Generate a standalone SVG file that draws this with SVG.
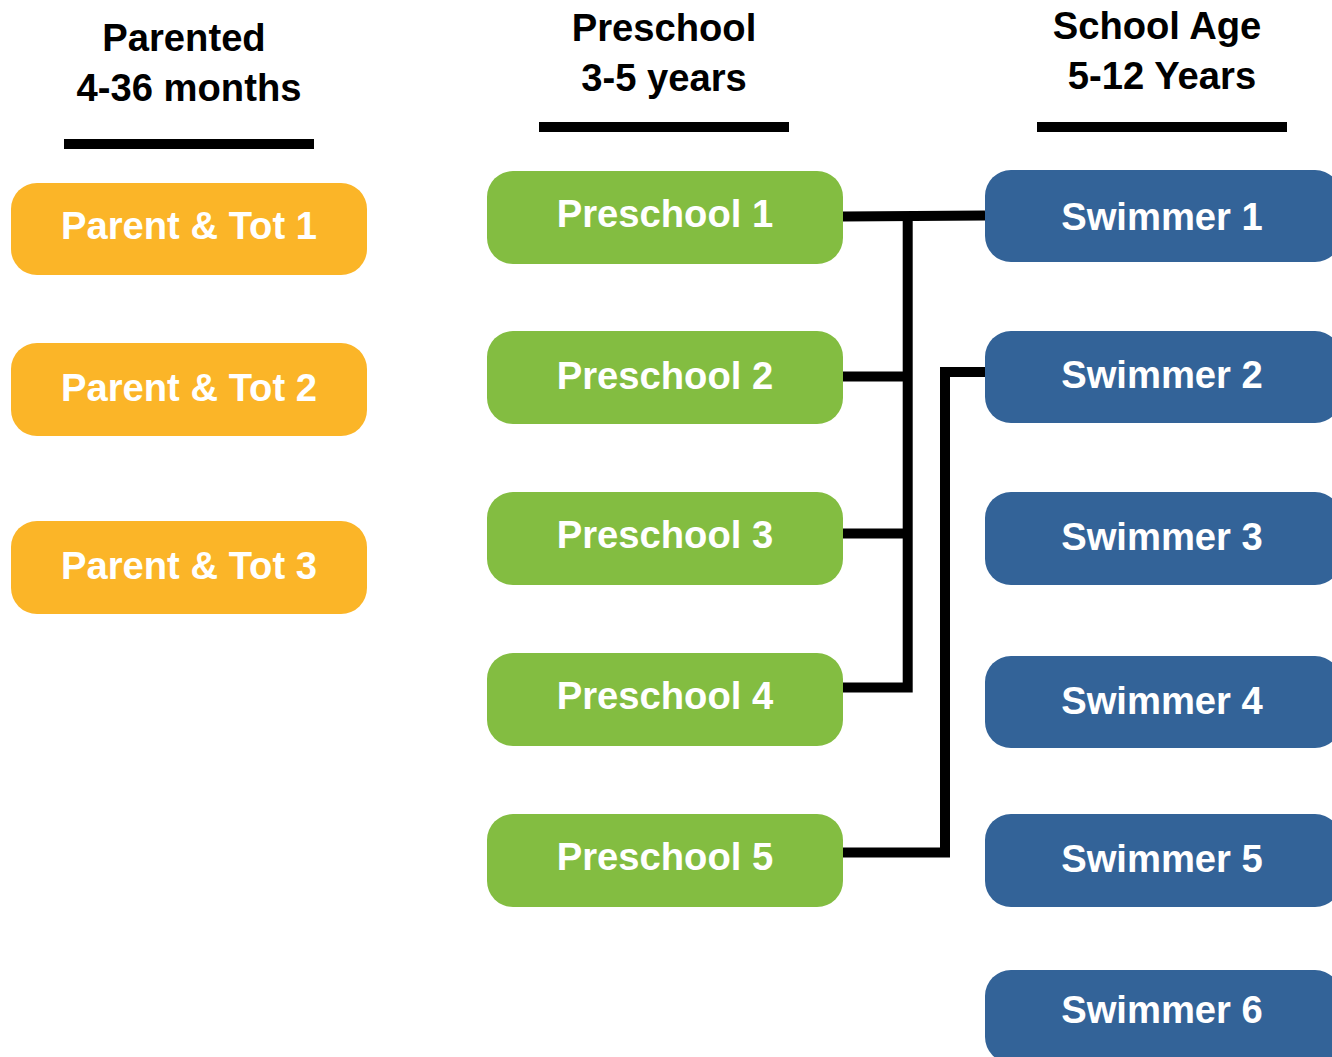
<svg xmlns="http://www.w3.org/2000/svg" width="1332" height="1057" viewBox="0 0 1332 1057">
<style>
text{font-family:"Liberation Sans",Arial,sans-serif;font-weight:bold;text-anchor:middle;font-size:38.2px}
.h{fill:#000}
.t{fill:#fff}
.o{fill:#fbb528}
.g{fill:#83bd41}
.b{fill:#336398}
.rule{fill:#000}
.c{fill:none;stroke:#000;stroke-width:10;stroke-linejoin:miter;stroke-linecap:butt}
</style>
<rect width="1332" height="1057" fill="#fff"/>
<g id="headers">
<text class="h" x="184" y="51">Parented</text>
<text class="h" x="189" y="101">4-36 months</text>
<rect class="rule" x="64" y="139" width="250" height="10"/>
<text class="h" x="664" y="41">Preschool</text>
<text class="h" x="664" y="91">3-5 years</text>
<rect class="rule" x="539" y="122" width="250" height="10"/>
<text class="h" x="1157" y="39">School Age</text>
<text class="h" x="1162" y="89">5-12 Years</text>
<rect class="rule" x="1037" y="122" width="250" height="10"/>
</g>
<g id="connectors">
<path class="c" d="M843,216.5 L985,215.5"/>
<path class="c" d="M843,687.5 H907.7 V216"/>
<path class="c" d="M843,376.5 H908"/>
<path class="c" d="M843,533.5 H908"/>
<path class="c" d="M985,372 H945 V852.5 H843"/>
</g>
<g id="pt1"><rect class="o" x="11" y="183" width="356" height="92" rx="26"/><text class="t" x="189" y="238.6">Parent &amp; Tot 1</text></g>
<g id="pt2"><rect class="o" x="11" y="343" width="356" height="93" rx="26"/><text class="t" x="189" y="400.6">Parent &amp; Tot 2</text></g>
<g id="pt3"><rect class="o" x="11" y="521" width="356" height="93" rx="26"/><text class="t" x="189" y="578.6">Parent &amp; Tot 3</text></g>
<g id="ps1"><rect class="g" x="487" y="171" width="356" height="93" rx="26"/><text class="t" x="665" y="226.6">Preschool 1</text></g>
<g id="ps2"><rect class="g" x="487" y="331" width="356" height="93" rx="26"/><text class="t" x="665" y="388.6">Preschool 2</text></g>
<g id="ps3"><rect class="g" x="487" y="492" width="356" height="93" rx="26"/><text class="t" x="665" y="547.6">Preschool 3</text></g>
<g id="ps4"><rect class="g" x="487" y="653" width="356" height="93" rx="26"/><text class="t" x="665" y="708.6">Preschool 4</text></g>
<g id="ps5"><rect class="g" x="487" y="814" width="356" height="93" rx="26"/><text class="t" x="665" y="869.6">Preschool 5</text></g>
<g id="sw1"><rect class="b" x="985" y="170" width="356" height="92" rx="26"/><text class="t" x="1162" y="229.6">Swimmer 1</text></g>
<g id="sw2"><rect class="b" x="985" y="331" width="356" height="92" rx="26"/><text class="t" x="1162" y="387.6">Swimmer 2</text></g>
<g id="sw3"><rect class="b" x="985" y="492" width="356" height="93" rx="26"/><text class="t" x="1162" y="549.6">Swimmer 3</text></g>
<g id="sw4"><rect class="b" x="985" y="656" width="356" height="92" rx="26"/><text class="t" x="1162" y="713.6">Swimmer 4</text></g>
<g id="sw5"><rect class="b" x="985" y="814" width="356" height="93" rx="26"/><text class="t" x="1162" y="871.6">Swimmer 5</text></g>
<g id="sw6"><rect class="b" x="985" y="970" width="356" height="93" rx="26"/><text class="t" x="1162" y="1022.6">Swimmer 6</text></g>
</svg>
